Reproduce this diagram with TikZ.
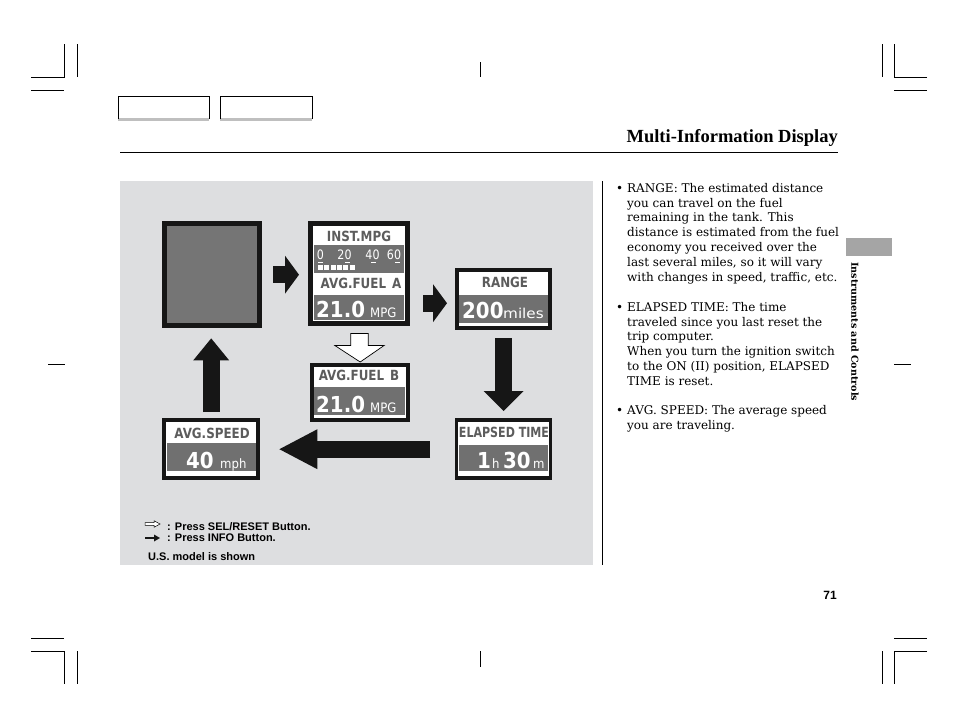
\documentclass[tikz,border=0pt]{standalone}
\usepackage{fontspec}
\setmainfont{DejaVu Serif}
\newfontfamily\titlefont{Liberation Serif}
\newfontfamily\lcdfont[FakeStretch=0.85]{DejaVu Sans}
\newfontfamily\digitfont[FakeStretch=0.9]{DejaVu Sans}
\newfontfamily\notefont{Liberation Sans}
\usetikzlibrary{arrows.meta,positioning,calc}

\definecolor{panelgray}{RGB}{221,222,224}
\definecolor{lcdgray}{RGB}{112,112,112}
\definecolor{lcdtext}{RGB}{92,92,92}
\definecolor{tabgray}{RGB}{165,165,165}
\definecolor{framec}{RGB}{22,22,22}

\newcommand{\bul}{\makebox[0pt][r]{•\hspace{4pt}}}

\tikzset{
	frame/.style={fill=framec, inner sep=0pt, anchor=north west},
	lcdtitle/.style={font=\lcdfont\bfseries\fontsize{14}{14}\selectfont, text=lcdtext, inner sep=0pt},
	bignum/.style={font=\digitfont\bfseries\fontsize{22}{22}\selectfont, text=white, inner sep=0pt, anchor=base west},
	unit/.style={font=\digitfont\fontsize{13}{13}\selectfont, text=white, inner sep=0pt, anchor=base west},
	scalenum/.style={font=\lcdfont\fontsize{13}{13}\selectfont, text=white, inner sep=0pt, anchor=base},
	infoarrow/.style={line width=17pt, draw=framec, -{Triangle[width=38pt,length=14pt,line width=0pt]}},
	bodytext/.style={font=\fontsize{12}{14.8}\selectfont, align=left, inner sep=0pt, anchor=north west},
	note/.style={font=\notefont\bfseries\fontsize{11}{12}\selectfont, inner sep=0pt, anchor=base west},
	crop/.style={line width=0.9pt}
}

\begin{document}
\begin{tikzpicture}[x=1pt,y=-1pt]
	\useasboundingbox (0,0) rectangle (954,710);
	
	% crop marks
	\draw[crop] (31,77) -- (64,77) -- (64,44);
	\draw[crop] (77,44) -- (77,77);
	\draw[crop] (31,90) -- (64,90);
	\draw[crop] (927,77) -- (894,77) -- (894,44);
	\draw[crop] (882,44) -- (882,77);
	\draw[crop] (894,90) -- (927,90);
	\draw[crop] (31,651) -- (64,651) -- (64,684);
	\draw[crop] (77,651) -- (77,684);
	\draw[crop] (31,638) -- (64,638);
	\draw[crop] (927,651) -- (894,651) -- (894,684);
	\draw[crop] (882,651) -- (882,684);
	\draw[crop] (894,638) -- (927,638);
	\draw[crop] (480,62) -- (480,77);
	\draw[crop] (480,651) -- (480,667);
	\draw[crop] (48,364) -- (65,364);
	\draw[crop] (894,364) -- (911,364);
	
	% header
	\fill[black!25] (118,118) rectangle (209,121);
	\fill[black!25] (220,118) rectangle (312,121);
	\draw[line width=1pt] (118,119) -- (118,96.5) -- (209,96.5) -- (209,119);
	\draw[line width=1pt] (220,119) -- (220,96.5) -- (312,96.5) -- (312,119);
	\node[font=\titlefont\bfseries\fontsize{18.5}{20}\selectfont, inner sep=0pt, anchor=base east] (title) at (838,142) {Multi-Information Display};
	\draw[line width=0.8pt] (120,152.5) -- (838,152.5);
	
	% side tab
	\fill[tabgray] (846,238) rectangle (892,256);
	\node[font=\bfseries\fontsize{9.6}{10}\selectfont, rotate=-90, inner sep=0pt, anchor=west] (section) at (855,262) {Instruments and Controls};
	\node[font=\notefont\bfseries\fontsize{12}{12}\selectfont, inner sep=0pt, anchor=base east] (pagenum) at (837,599) {71};
	
	% panel
	\fill[panelgray] (120,181) rectangle (593,565);
	\draw[line width=0.8pt] (602,181) -- (602,565);
	
	% screens
	\node[frame, minimum width=100pt, minimum height=107pt] (blank) at (162,221) {};
	\node[frame, minimum width=102pt, minimum height=105pt] (inst) at (308,221) {};
	\node[frame, minimum width=97pt, minimum height=62pt] (range) at (455,268) {};
	\node[frame, minimum width=100pt, minimum height=59pt] (fuelb) at (310,363) {};
	\node[frame, minimum width=97pt, minimum height=62pt] (elapsed) at (455,418) {};
	\node[frame, minimum width=98pt, minimum height=62pt] (avgspeed) at (162,418) {};
	
	% blank screen
	\fill[black!54] ($(blank.north west)+(5,5)$) rectangle ($(blank.south east)+(-5,-5)$);
	
	% inst.mpg screen
	\fill[white] ($(inst.north west)+(5,5)$) rectangle ($(inst.south east)+(-5,-5)$);
	\node[lcdtitle] (insttitle) at (359,236) {INST.MPG};
	\fill[lcdgray] (314,245) rectangle (404,273);
	\foreach \v/\x in {0/320.5,20/344.5,40/372.5,60/394}
		\node[scalenum] (mark\v) at (\x,259.5) {\v};
	\foreach \x in {318,345,371,395}
		\fill[white] (\x,261.5) rectangle ++(5,1.5);
	\foreach \i in {0,...,5}
		\fill[white] (318+\i*6.3,265) rectangle ++(5,5);
	\node[lcdtitle] (fuelatitle) at (361,283) {AVG.FUEL\hspace{6pt}A};
	\fill[lcdgray] (314,295) rectangle (404,320);
	\node[bignum] (fuelanum) at (316,317) {21.0};
	\node[unit] (fuelaunit) at (370,317) {MPG};
	
	% range screen
	\fill[white] ($(range.north west)+(4,4)$) rectangle ($(range.south east)+(-4,-4)$);
	\node[lcdtitle] (rangetitle) at (505,282) {RANGE};
	\fill[lcdgray] (459,295) rectangle (548,323);
	\node[bignum] (rangenum) at (462,318) {200};
	\node[unit] (rangeunit) at (503,318) {\scalebox{1.3}[1.05]{miles}};
	
	% avg.fuel b screen
	\fill[white] ($(fuelb.north west)+(4,4)$) rectangle ($(fuelb.south east)+(-4,-4)$);
	\node[lcdtitle] (fuelbtitle) at (359,375) {AVG.FUEL\hspace{6pt}B};
	\fill[lcdgray] (314,387) rectangle (405,415);
	\node[bignum] (fuelbnum) at (316,412) {21.0};
	\node[unit] (fuelbunit) at (370,412) {MPG};
	
	% elapsed time screen
	\fill[white] ($(elapsed.north west)+(3,4)$) rectangle ($(elapsed.south east)+(-3,-4)$);
	\node[lcdtitle] (elapsedtitle) at (504,432) {\scalebox{0.93}[1]{ELAPSED TIME}};
	\fill[lcdgray] (459,445) rectangle (548,471);
	\node[bignum] (hours) at (477,468) {1};
	\node[unit] (hunit) at (492,468) {h};
	\node[bignum] (minutes) at (503,468) {30};
	\node[unit] (munit) at (533,468) {m};
	
	% avg.speed screen
	\fill[white] ($(avgspeed.north west)+(4,4)$) rectangle ($(avgspeed.south east)+(-4,-4)$);
	\node[lcdtitle] (speedtitle) at (212,433) {AVG.SPEED};
	\fill[lcdgray] (167,443) rectangle (256,471);
	\node[bignum] (speednum) at (186,468) {40};
	\node[unit] (speedunit) at (220,468) {mph};
	
	% info button arrows
	\draw[infoarrow, shorten <=11pt, shorten >=9pt] (blank.east) -- (blank.east -| inst.west);
	\draw[infoarrow, shorten <=13pt, shorten >=8pt] ([yshift=-4pt]inst.east |- range.west) -- ([yshift=-4pt]range.west);
	\draw[infoarrow, -{Triangle[width=40pt,length=20pt,line width=0pt]}, shorten <=8pt, shorten >=7pt] (range.south) -- (range.south |- elapsed.north);
	\draw[infoarrow, -{Triangle[width=40pt,length=38pt,line width=0pt]}, shorten <=25pt, shorten >=19pt] (elapsed.west) -- (elapsed.west -| avgspeed.east);
	\draw[infoarrow, -{Triangle[width=36pt,length=22pt,line width=0pt]}, shorten <=6pt, shorten >=10pt] (avgspeed.north) -- (avgspeed.north |- blank.south);
	
	% sel/reset arrow
	\draw[fill=white, line width=0.7pt] ($(inst.south)+(-8.5,7)$) -- ++(0,12) -- ++(-16,0) -- ($(fuelb.north)+(0,-1)$) -- ($(inst.south)+(25,19)$) -- ++(-16,0) -- ++(0,-12) -- cycle;
	
	% legend
	\coordinate (legw) at (145,524);
	\draw[fill=white, line width=0.5pt] ($(legw)+(0,-1.3)$) -- ++(9,0) -- ++(0,-2) -- ++(6,3.3) -- ++(-6,3.3) -- ++(0,-2) -- ++(-9,0) -- cycle;
	\node[note] (seltext) at (167,530.5) {: Press SEL/RESET Button.};
	\coordinate (legb) at (145,538);
	\draw[line width=2.6pt, draw=framec, -{Triangle[width=7pt,length=6pt,line width=0pt]}] (legb) -- ++(15,0);
	\node[note] (infotext) at (167,541.5) {: Press INFO Button.};
	\node[note] (model) at (148,560) {U.S. model is shown};
	
	% text column
	\node[bodytext] (range text) at (627,183) {\bul RANGE: The estimated distance\\you can travel on the fuel\\remaining in the tank. This\\distance is estimated from the fuel\\economy you received over the\\last several miles, so it will vary\\with changes in speed, traffic, etc.};
	\node[bodytext] (elapsed text) at (627,302) {\bul ELAPSED TIME: The time\\traveled since you last reset the\\trip computer.\\When you turn the ignition switch\\to the ON (II) position, ELAPSED\\TIME is reset.};
	\node[bodytext] (speed text) at (627,405) {\bul AVG. SPEED: The average speed\\you are traveling.};
\end{tikzpicture}
\end{document}
